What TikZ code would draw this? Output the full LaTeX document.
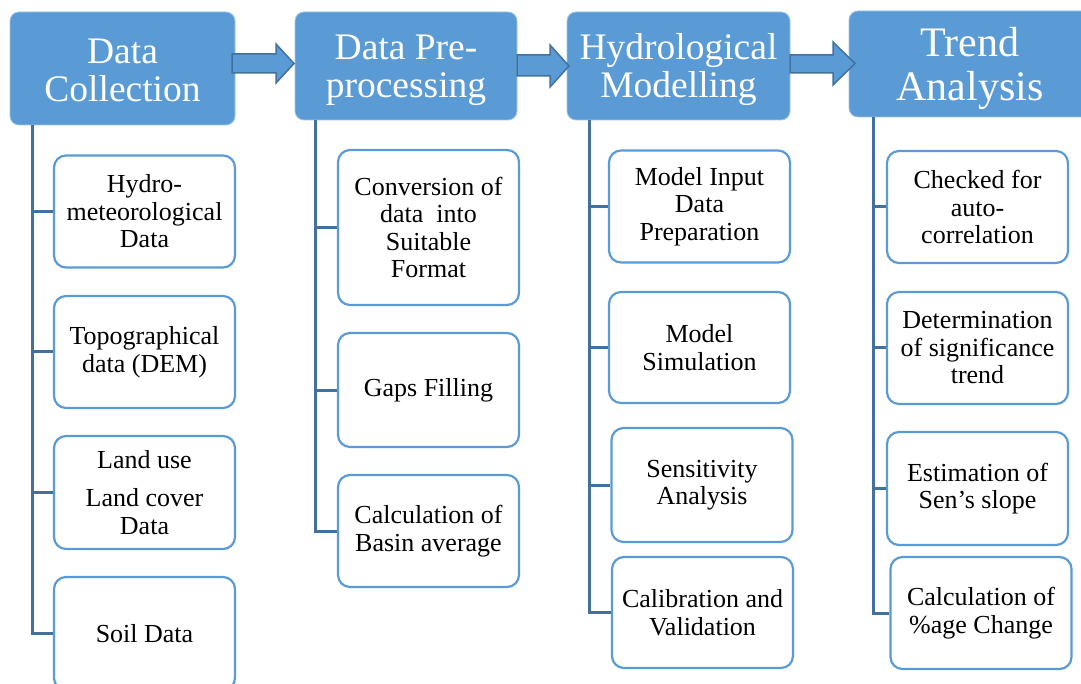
\documentclass[tikz,border=0pt]{standalone}
\usepackage{fontspec}
\setmainfont{Liberation Serif}
\definecolor{blockblue}{HTML}{5B9BD5}
\definecolor{edgeblue}{HTML}{41719C}
\definecolor{rimblue}{HTML}{9DC3E6}

\begin{document}
\begin{tikzpicture}[x=1pt,y=-1pt,
  header/.style={rectangle, rounded corners=9pt, fill=blockblue, draw=rimblue,
    line width=0.8pt, inner sep=0pt},
  headtext/.style={text=white, align=center, inner sep=0pt,
    font=\fontsize{37.5}{38}\selectfont},
  item/.style={rectangle, rounded corners=12pt, fill=white, draw=blockblue,
    line width=2.2pt, align=center, inner sep=0pt, text=black,
    font=\fontsize{26}{27.5}\selectfont, minimum width=181pt, minimum height=112pt},
  trunk/.style={draw=edgeblue, line width=3pt},
  flowarrow/.style={fill=blockblue, draw=edgeblue, line width=1.5pt, line join=miter}]

\useasboundingbox (0,0) rectangle (1081,684);

% ---- stage headers ----
\node[header, minimum width=225pt, minimum height=113pt] (h1) at (122.5,68.5) {};
\node[header, minimum width=222pt, minimum height=108pt] (h2) at (406,66) {};
\node[header, minimum width=223pt, minimum height=108pt] (h3) at (678.5,66) {};
\node[header, minimum width=242pt, minimum height=106pt] (h4) at (970,64) {};

\node[headtext] (h1t) at ([yshift=-1.5pt]h1.center) {Data\\Collection};
\node[headtext] (h2t) at ([yshift=-4pt]h2.center) {Data Pre-\\processing};
\node[headtext] (h3t) at ([yshift=-4pt]h3.center) {Hydrological\\Modelling};
\node[headtext, font=\fontsize{42}{44}\selectfont] (h4t) at ([yshift=-4pt]h4.center) {Trend\\Analysis};

% ---- block arrows between stages ----
\filldraw[flowarrow] (232,54) -- (276,54) -- (276,44) -- (294,63.5) -- (276,83) -- (276,73) -- (232,73) -- cycle;
\filldraw[flowarrow] (517,55) -- (550,55) -- (550,45) -- (569,66) -- (550,87) -- (550,76) -- (517,76) -- cycle;
\filldraw[flowarrow] (790,55) -- (833,55) -- (833,42) -- (855,63.5) -- (833,85) -- (833,73) -- (790,73) -- cycle;

% ---- trunk anchor points below each header ----
\path (h1.south) ++(-90.5,0) coordinate (t1);
\path (h2.south) ++(-91,0) coordinate (t2);
\path (h3.south) ++(-89.5,0) coordinate (t3);
\path (h4.south) ++(-97,0) coordinate (t4);

% ---- sub-steps ----
\node[item] (c11) at (144.5,211.5) {Hydro-\\meteorological\\Data};
\node[item] (c12) at (144.5,352) {Topographical\\data (DEM)};
\node[item, minimum height=113pt] (c13) at (144.5,492.5) {Land use\\[10.5pt]Land cover\\Data};
\node[item, minimum height=113pt] (c14) at (144.5,633.5) {Soil Data};

\node[item, minimum height=155pt] (c21) at (428.5,227.5) {Conversion of\\data~ into\\Suitable\\Format};
\node[item, minimum height=114pt] (c22) at (428.5,390) {Gaps Filling};
\node[item] (c23) at (428.5,531) {Calculation of\\Basin average};

\node[item] (c31) at (699.5,206.5) {Model Input\\Data\\Preparation};
\node[item, minimum height=111pt] (c32) at (699.5,347.5) {Model\\Simulation};
\node[item, minimum height=114pt] (c33) at (702,485) {Sensitivity\\Analysis};
\node[item, minimum height=111pt] (c34) at (702.5,612.5) {Calibration and\\Validation};

\node[item] (c41) at (977.5,207) {Checked for\\auto-\\correlation};
\node[item] (c42) at (977.5,348) {Determination\\of significance\\trend};
\node[item, minimum height=113pt] (c43) at (977.5,488.5) {Estimation of\\Sen’s slope};
\node[item] (c44) at (981,613) {Calculation of\\\%age Change};

% ---- trunk lines and branches ----
\draw[trunk] (t1) |- (c14.west);
\foreach \c in {c11,c12,c13} \draw[trunk] (t1 |- \c.west) -- (\c.west);
\draw[trunk] (t2) |- (c23.west);
\foreach \c in {c21,c22} \draw[trunk] (t2 |- \c.west) -- (\c.west);
\draw[trunk] (t3) |- (c34.west);
\foreach \c in {c31,c32,c33} \draw[trunk] (t3 |- \c.west) -- (\c.west);
\draw[trunk] (t4) |- (c44.west);
\foreach \c in {c41,c42,c43} \draw[trunk] (t4 |- \c.west) -- (\c.west);
\end{tikzpicture}
\end{document}
